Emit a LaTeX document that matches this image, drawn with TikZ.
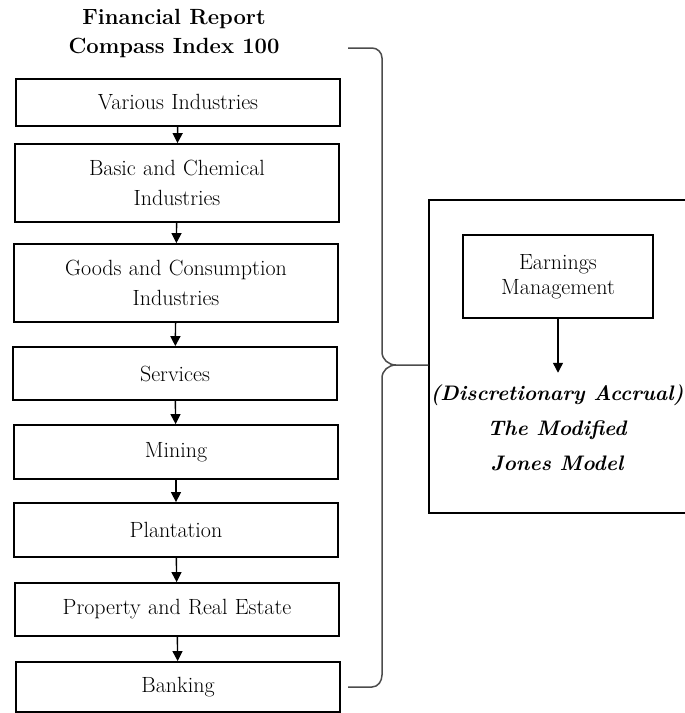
\documentclass[tikz,border=0pt]{standalone}
\usepackage{fontspec}
\usetikzlibrary{arrows.meta}
\tikzset{
  industry/.style={draw, line width=1.8pt, minimum width=324pt, text width=316pt,
    align=center, inner sep=0pt},
  flowarrow/.style={line width=1.4pt, -{Triangle[width=10pt,length=10pt]}},
  bracket/.style={line width=1.5pt, black!70, line join=round}
}
\begin{document}
\begin{tikzpicture}[x=1pt,y=-1pt, font=\fontsize{22}{30}\selectfont]
      \clip (0,0) rectangle (685,713);
      \fill[white] (0,0) rectangle (685,713);
      \draw
        (174,33) node[align=center, font=\fontsize{22}{29}\selectfont\bfseries] (title)
          {Financial Report\\Compass Index 100}
        (178,102.5) node[industry, minimum height=47pt] (various) {Various Industries}
        (177,183) node[industry, minimum height=78pt] (basic) {Basic and Chemical\\Industries}
        (176,283) node[industry, minimum height=78pt] (goods) {Goods and Consumption\\Industries}
        (175,373.5) node[industry, minimum height=53pt] (services) {Services}
        (176,452) node[industry, minimum height=54pt] (mining) {Mining}
        (176,530) node[industry, minimum height=54pt] (plantation) {Plantation}
        (177,609.5) node[industry, minimum height=53pt] (property) {Property and Real Estate}
        (178,687) node[industry, minimum height=50pt] (banking) {Banking}
        (565,356.5) node[draw, line width=1.5pt, minimum width=272pt, minimum height=313pt] (frame) {}
        (558,276.5) node[draw, line width=1.8pt, minimum width=190pt, minimum height=83pt,
          align=center, font=\fontsize{22}{25}\selectfont] (earnings) {Earnings\\Management}
        (557,428) node[align=center, inner sep=4pt,
          font=\fontsize{21}{35}\selectfont\bfseries\itshape] (jones)
          {(Discretionary Accrual)\\The Modified\\Jones Model};
      \begin{scope}[flowarrow]
        \draw (various) to (basic);
        \draw (basic) to (goods);
        \draw (goods) to (services);
        \draw (services) to (mining);
        \draw (mining) to (plantation);
        \draw (plantation) to (property);
        \draw (property) to (banking);
        \draw[shorten >=8pt] (earnings.south) to (earnings.south |- jones.north);
      \end{scope}
      % brace joining the industries to the model
      \draw[bracket] (348,48) -- (372,48) to[out=0,in=90] (382,58) -- (382,352)
        to[out=-90,in=180] (396,365) -- ([yshift=-8.5pt]frame.west);
      \draw[bracket] (396,365) to[out=180,in=90] (382,378) -- (382,675)
        to[out=-90,in=0] (372,687) -- (348,687);
    \end{tikzpicture}
\end{document}
